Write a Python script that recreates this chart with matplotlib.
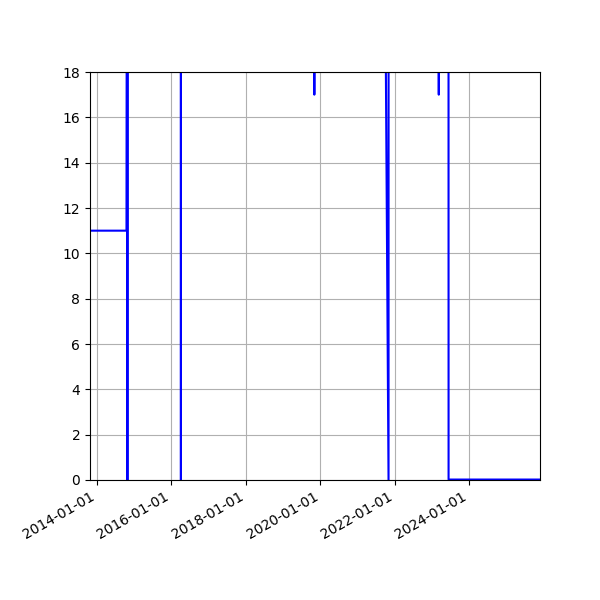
import matplotlib
matplotlib.use("Agg")
import pandas as pd
import matplotlib.pyplot as plt
import matplotlib.dates as mdates

# readings (values above 18 run off the top of the plot)
dates = ['2013-10-24', '2014-10-17', '2014-10-18', '2014-10-25', '2014-10-26', '2014-10-27',
         '2016-04-02', '2016-04-03', '2016-04-04',
         '2019-10-31', '2019-11-03', '2019-11-06',
         '2021-10-04', '2021-10-31', '2021-11-01',
         '2023-03-05', '2023-03-08', '2023-03-11',
         '2023-06-11', '2023-06-12', '2025-11-25']
values = [11, 11, 16, 40, 0, 40,
          40, 0, 40,
          40, 17, 40,
          18.7, 0, 40,
          40, 17, 40,
          40, 0.02, 0.02]

x = pd.to_datetime(dates)

fig, ax = plt.subplots(figsize=(6, 6), dpi=100)
ax.plot(x, values, 'b-', linewidth=1.5)

ax.set_ylim(0, 18)
ax.set_yticks(range(0, 19, 2))
ax.set_xlim(x[0], x[-1])
ax.xaxis.set_major_locator(mdates.YearLocator(2))
ax.xaxis.set_major_formatter(mdates.DateFormatter('%Y-%m-%d'))
ax.grid(True)

fig.autofmt_xdate()
plt.subplots_adjust(left=0.15, right=0.9, top=0.88, bottom=0.2)
plt.savefig('out.png')
